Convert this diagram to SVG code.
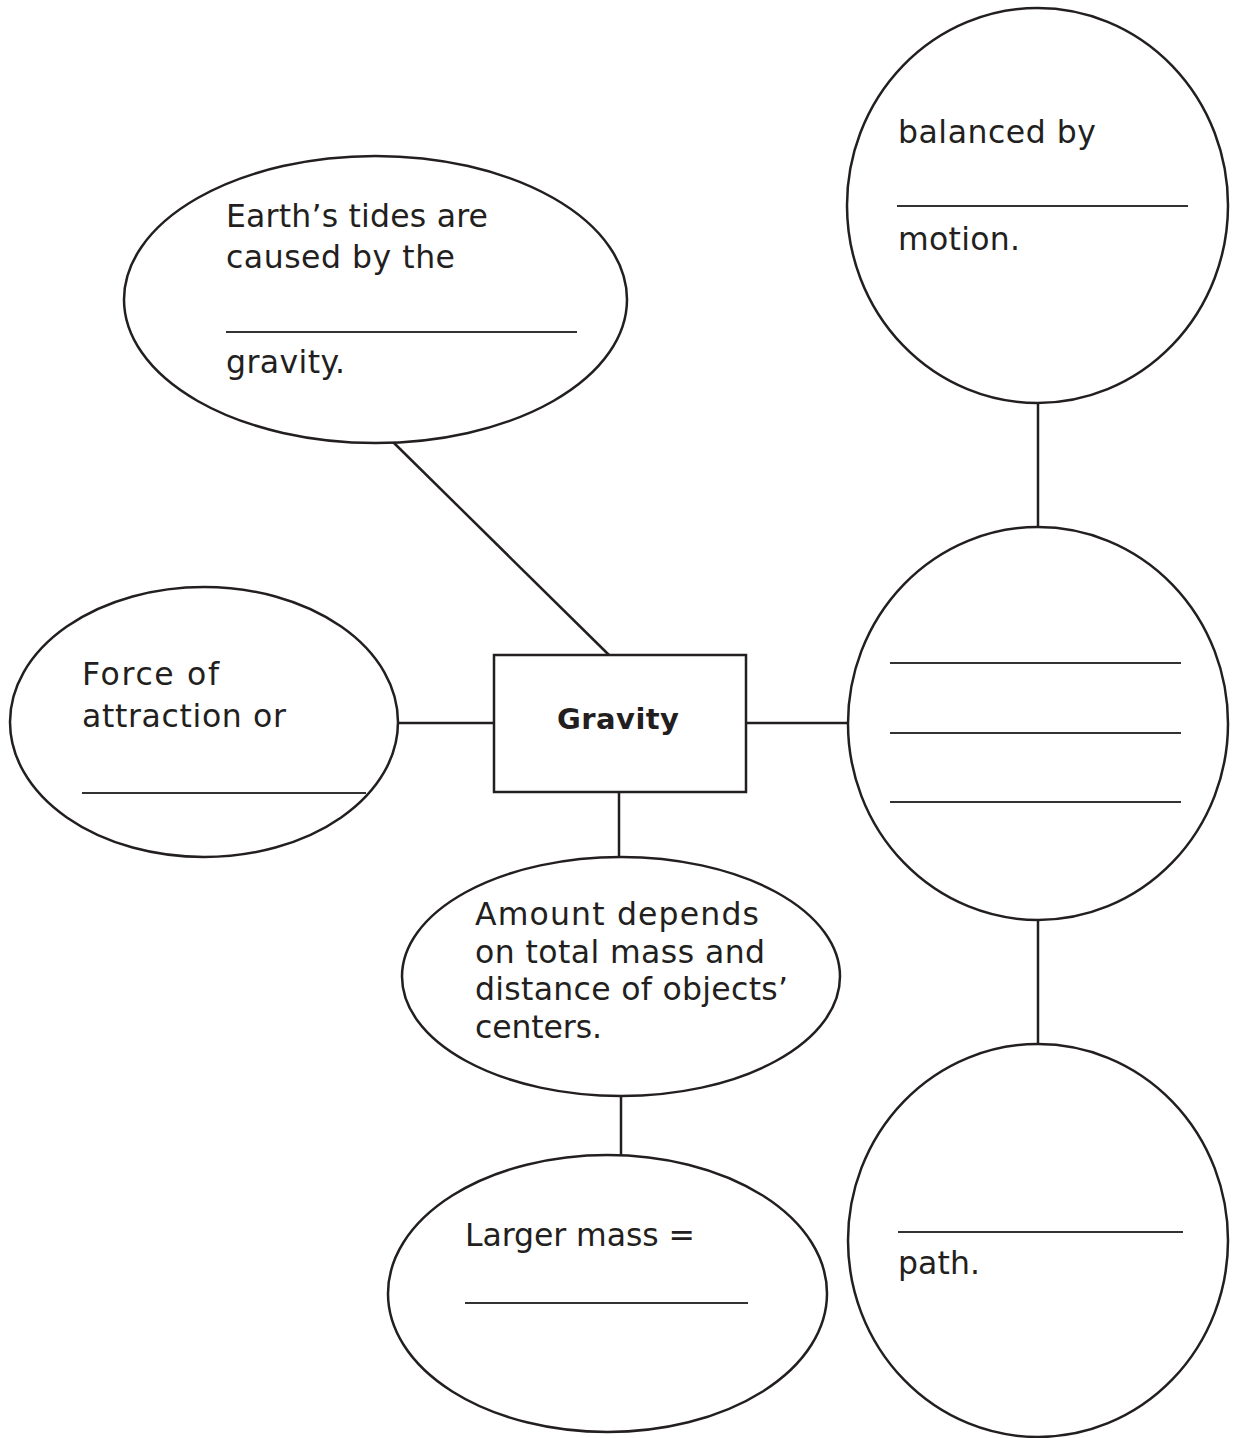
<svg xmlns="http://www.w3.org/2000/svg" width="1236" height="1438" viewBox="0 0 1236 1438">
<style>
.shape{fill:#fff;stroke:#231f20;stroke-width:2.5}
.conn{stroke:#231f20;stroke-width:2.5;fill:none}
.blank{stroke:#333;stroke-width:1.8}
.t{font-family:"DejaVu Sans","Noto Sans",sans-serif;font-size:31.5px;fill:#231f20}
.b{font-family:"DejaVu Sans","Noto Sans",sans-serif;font-size:29px;font-weight:bold;fill:#231f20}
</style>
<rect width="1236" height="1438" fill="#fff"/>
<g id="connectors">
<line class="conn" x1="393" y1="442" x2="609" y2="655"/>
<line class="conn" x1="397" y1="723" x2="494" y2="723"/>
<line class="conn" x1="746" y1="723" x2="848" y2="723"/>
<line class="conn" x1="619" y1="792" x2="619" y2="857"/>
<line class="conn" x1="621" y1="1096" x2="621" y2="1155"/>
<line class="conn" x1="1038" y1="403" x2="1038" y2="527"/>
<line class="conn" x1="1038" y1="916" x2="1038" y2="1043"/>
</g>
<g id="tides">
<ellipse class="shape" cx="375.5" cy="299.5" rx="251.5" ry="143.5"/>
<text class="t" x="226" y="227" textLength="262" lengthAdjust="spacing">Earth’s tides are</text>
<text class="t" x="226" y="268" textLength="229" lengthAdjust="spacing">caused by the</text>
<line class="blank" x1="226" y1="332" x2="577" y2="332"/>
<text class="t" x="226" y="373" textLength="119" lengthAdjust="spacing">gravity.</text>
</g>
<g id="balanced">
<ellipse class="shape" cx="1037.5" cy="205.5" rx="190.5" ry="197.5"/>
<text class="t" x="898" y="143" textLength="198" lengthAdjust="spacing">balanced by</text>
<line class="blank" x1="897" y1="206" x2="1188" y2="206"/>
<text class="t" x="898" y="250" textLength="122" lengthAdjust="spacing">motion.</text>
</g>
<g id="force">
<ellipse class="shape" cx="204" cy="722" rx="194" ry="135"/>
<text class="t" x="82" y="685" textLength="137" lengthAdjust="spacing">Force of</text>
<text class="t" x="82" y="727" textLength="204" lengthAdjust="spacing">attraction or</text>
<line class="blank" x1="82" y1="793" x2="366" y2="793"/>
</g>
<g id="gravity">
<rect class="shape" x="494" y="655" width="252" height="137"/>
<text class="b" x="618" y="729" text-anchor="middle" textLength="122" lengthAdjust="spacing">Gravity</text>
</g>
<g id="lines3">
<ellipse class="shape" cx="1038" cy="723.5" rx="190" ry="196.5"/>
<line class="blank" x1="890" y1="663" x2="1181" y2="663"/>
<line class="blank" x1="890" y1="733" x2="1181" y2="733"/>
<line class="blank" x1="890" y1="802" x2="1181" y2="802"/>
</g>
<g id="path">
<ellipse class="shape" cx="1038" cy="1240.5" rx="190" ry="196.5"/>
<line class="blank" x1="898" y1="1232" x2="1183" y2="1232"/>
<text class="t" x="898" y="1274" textLength="82" lengthAdjust="spacing">path.</text>
</g>
<g id="amount">
<ellipse class="shape" cx="621" cy="976.5" rx="219" ry="119.5"/>
<text class="t" x="475" y="925" textLength="284" lengthAdjust="spacing">Amount depends</text>
<text class="t" x="475" y="963" textLength="290" lengthAdjust="spacing">on total mass and</text>
<text class="t" x="475" y="1000" textLength="313" lengthAdjust="spacing">distance of objects’</text>
<text class="t" x="475" y="1038" textLength="127" lengthAdjust="spacing">centers.</text>
</g>
<g id="larger">
<ellipse class="shape" cx="607.5" cy="1293.5" rx="219.5" ry="138.5"/>
<text class="t" x="465" y="1246" textLength="230" lengthAdjust="spacing">Larger mass =</text>
<line class="blank" x1="465" y1="1303" x2="748" y2="1303"/>
</g>
</svg>
